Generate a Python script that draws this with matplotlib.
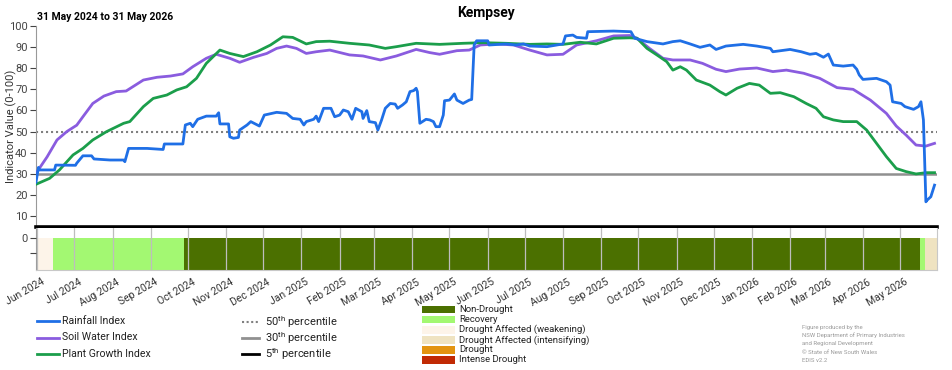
import numpy as np
import pandas as pd
import matplotlib
matplotlib.use("Agg")
import matplotlib.pyplot as plt
import matplotlib.dates as mdates
import matplotlib.transforms as mtransforms
from matplotlib.lines import Line2D
from matplotlib.patches import Rectangle

plt.rcParams['font.family'] = ['Roboto', 'DejaVu Sans']
plt.rcParams['mathtext.fontset'] = 'custom'
plt.rcParams['mathtext.rm'] = 'Roboto'

# Data (day = days after 31 May 2024)
START = pd.Timestamp('2024-05-31')

rain_day = [0, 2, 3, 15, 16, 32, 33, 38, 45, 47, 60, 71, 72, 75, 90, 103, 104, 119,
            121, 125, 127, 131, 138, 146, 148, 149, 156, 157, 160, 164, 165, 171, 174,
            181, 185, 195, 203, 208, 214, 217, 219, 225, 227, 229, 233, 239, 242, 246,
            249, 253, 256, 259, 264, 265, 268, 270, 275, 277, 280, 283, 287, 291, 293,
            297, 300, 303, 306, 308, 309, 311, 316, 319, 322, 324, 327, 330, 331, 335,
            339, 341, 346, 351, 353, 355, 357, 366, 367, 381, 389, 395, 400, 414, 427,
            429, 435, 438, 446, 447, 468, 482, 485, 495, 508, 516, 522, 530, 538, 546,
            551, 559, 573, 584, 595, 597, 611, 620, 627, 632, 638, 642, 646, 654, 662,
            665, 667, 670, 681, 689, 692, 694, 701, 704, 711, 715, 717, 719, 721, 722,
            725, 728]
rain_val = [26, 33, 31.8, 31.8, 34.1, 34, 35, 38.5, 38.5, 37, 36.5, 36.5, 35.7, 42, 42,
            41.5, 44.1, 44.1, 53.1, 53.9, 52.3, 55.8, 57.3, 57.3, 58.9, 53.6, 53.6, 47.5,
            46.8, 47.2, 50.7, 53.1, 54.7, 52.6, 57.8, 59.1, 58.6, 56.2, 55.8, 53.1, 54.7,
            55.8, 57.3, 54.7, 61, 61, 57, 57.8, 60.2, 59.4, 55.8, 61, 59.4, 56.2, 59.9,
            54.7, 54.2, 50.7, 55.5, 61, 63.3, 63, 61, 62.6, 64.1, 68.9, 69.4, 70.5, 68.9,
            53.9, 55.8, 55.5, 54.7, 52.3, 52.3, 57.8, 64.6, 64.9, 67.8, 64.9, 63.3, 64.9,
            65.2, 91, 93, 93, 91, 91.5, 91, 91.5, 90.5, 90.2, 91.5, 95.3, 95.7, 94.6, 94.2,
            97.3, 97.6, 97.3, 94.2, 92.6, 91.5, 92.6, 93, 91.5, 89.9, 91, 88.9, 90.5, 91.3,
            90.5, 89.4, 87.8, 88.9, 87.8, 86.6, 87, 85.2, 86.7, 81.5, 81, 81.5, 79.5, 76.8,
            74.7, 75.2, 73.6, 72, 64.1, 63.3, 61.8, 60.5, 61.8, 64.1, 55.5, 16.7, 17.5,
            19.1, 24.6]

soil_day = [0, 9, 17, 25, 33, 38, 46, 55, 65, 73, 87, 98, 109, 119, 127, 138, 146, 157,
            165, 176, 187, 195, 203, 211, 219, 227, 238, 254, 265, 279, 292, 308, 319,
            327, 341, 351, 360, 373, 387, 400, 414, 427, 438, 454, 468, 481, 487, 497,
            508, 516, 530, 540, 551, 559, 570, 584, 597, 608, 622, 635, 649, 662, 676,
            689, 697, 705, 713, 721, 728]
soil_val = [30.2, 38, 46, 50, 53, 57, 63.3, 66.8, 68.9, 69.2, 74.4, 75.7, 76.3, 77.3,
            80.7, 84.7, 86.6, 84.7, 82.8, 85.1, 87, 89.4, 90.5, 89.4, 87, 87.8, 88.6, 86.3,
            85.8, 83.9, 85.8, 88.9, 87.4, 86.6, 88.3, 88.6, 91, 91.5, 91, 88.6, 86.3, 86.6,
            91, 93, 95.3, 95.5, 94.2, 89.4, 84.7, 83.9, 83.9, 82.3, 79.5, 78.4, 79.6, 80.1,
            78.4, 79.1, 77.6, 75.2, 70.8, 70, 64.9, 58.6, 52.6, 48.3, 43.6, 43.1, 44.4]

plant_day = [0, 11, 19, 30, 38, 46, 57, 71, 76, 87, 95, 106, 114, 122, 130, 138, 149,
             157, 168, 179, 190, 200, 208, 219, 227, 238, 254, 270, 283, 292, 308, 327,
             346, 362, 381, 400, 414, 427, 441, 454, 468, 481, 487, 495, 503, 511, 516,
             522, 527, 535, 546, 554, 559, 568, 578, 586, 595, 603, 614, 624, 632, 638,
             646, 654, 665, 673, 681, 689, 697, 705, 713, 721, 728]
plant_val = [25, 27.8, 31.8, 38.9, 42, 46, 49.9, 53.9, 54.7, 61.8, 65.7, 67.3, 69.7,
             71.2, 75.2, 82.3, 88.6, 87, 85.5, 87.8, 91, 94.9, 94.6, 91.5, 92.6, 92.8,
             91.8, 91, 89.4, 90.2, 91.8, 91.3, 91.8, 92.1, 91.8, 91.3, 91.5, 91.3, 92.3,
             91.5, 94.2, 94.4, 94.2, 89.4, 86.3, 83.1, 79.1, 80.7, 79.1, 74.4, 72, 68.9,
             67.3, 70.5, 72.8, 72, 68.1, 68.4, 66.5, 63.3, 61, 57, 55.5, 54.7, 54.7, 50.7,
             44.4, 38.1, 32.5, 31, 29.9, 30.5, 30.5]

# drought category periods
phase_start = ['2024-05-31', '2024-06-14', '2024-09-28', '2026-05-17', '2026-05-21']
phase_end = ['2024-06-14', '2024-09-28', '2026-05-17', '2026-05-21', '2026-05-31']
phase_class = ['Drought Affected (weakening)', 'Recovery', 'Non-Drought', 'Recovery',
               'Drought Affected (intensifying)']

classes = ['Non-Drought', 'Recovery', 'Drought Affected (weakening)',
           'Drought Affected (intensifying)', 'Drought', 'Intense Drought']
class_colors = ['#4b7000', '#a3f872', '#fdf4e9', '#efe3c1', '#e39410', '#c12a04']

percentiles = [50, 30, 5]
credits = ['Figure produced by the', 'NSW Department of Primary Industries',
           'and Regional Development', '\u00a9 State of New South Wales', 'EDIS v2.2']


def to_dates(days):
    return START + pd.to_timedelta(days, unit='D')


BLUE, PURPLE, GREEN = '#1f6fe6', '#8a5cdf', '#1b9e4b'

fig = plt.figure(figsize=(9.52, 3.70), dpi=100)
ax = fig.add_axes([36 / 952, 1 - 226.5 / 370, 901 / 952, 200.5 / 370])
ax2 = fig.add_axes([36 / 952, 1 - 270 / 370, 901 / 952, 42 / 370])

x0, x1 = START, START + pd.Timedelta(days=730)

# percentile lines
ax.axhline(percentiles[0], color='#808080', lw=1.5, ls=(0, (1, 1.4)), zorder=1)
ax.axhline(percentiles[1], color='#909090', lw=1.8, zorder=1)
ax.axhline(percentiles[2], color='black', lw=2.6, zorder=5, clip_on=False)

ax.plot(to_dates(soil_day), soil_val, color=PURPLE, lw=2, zorder=3)
ax.plot(to_dates(plant_day), plant_val, color=GREEN, lw=2, zorder=3)
ax.plot(to_dates(rain_day), rain_val, color=BLUE, lw=2, zorder=4)

ax.set_xlim(x0, x1)
ax.set_ylim(5, 100)
ax.set_yticks(range(10, 101, 10))
ax.tick_params(axis='y', labelsize=8, colors='#444444', length=4, width=0.8, pad=2)
ax.tick_params(axis='x', bottom=False, labelbottom=False)
for s in ['top', 'right', 'bottom']:
    ax.spines[s].set_visible(False)
ax.spines['left'].set_color('#999999')
fig.text(11 / 952, 1 - 126 / 370, 'Indicator Value (0-100)', fontsize=8,
         color='#333333', rotation=90, ha='center', va='center')
fig.text(486 / 952, 1 - 13 / 370, 'Kempsey', fontsize=10, fontweight='bold',
         ha='center', va='center')
fig.text(37 / 952, 1 - 17 / 370, '31 May 2024 to 31 May 2026', fontsize=7.5,
         fontweight='bold', va='center', ha='left')

# drought category strip
for s, e, c in zip(phase_start, phase_end, phase_class):
    s, e = mdates.date2num(pd.Timestamp(s)), mdates.date2num(pd.Timestamp(e))
    ax2.axvspan(s, e, ymin=0, ymax=0.76, color=class_colors[classes.index(c)],
                lw=0, zorder=1)
ax2.set_xlim(x0, x1)
ax2.set_ylim(-2.13, 0.67)
ax2.set_yticks([0, -1])
ax2.set_yticklabels(['0', ''])
ax2.tick_params(axis='y', labelsize=8, colors='#444444', length=4, width=0.8, pad=2)
ax2.xaxis.set_major_locator(mdates.MonthLocator())
ax2.xaxis.set_major_formatter(mdates.DateFormatter('%b %Y'))
ax2.tick_params(axis='x', length=0, labelsize=7.5, colors='#333333', pad=5)
shift = mtransforms.ScaledTranslation(4 / 100, 0, fig.dpi_scale_trans)
for lab in ax2.get_xticklabels():
    lab.set_rotation(30)
    lab.set_ha('right')
    lab.set_rotation_mode('anchor')
    lab.set_transform(lab.get_transform() + shift)
ax2.grid(axis='x', color='#bdbdbd', lw=0.9, zorder=2)
ax2.set_axisbelow(False)
ax2.spines['top'].set_visible(False)
for s in ['left', 'right', 'bottom']:
    ax2.spines[s].set_color('#c8c8c8')
ax2.spines['left'].set_color('#999999')

# legends (drawn in pixel coordinates)
lg = fig.add_axes([0, 0, 1, 1], zorder=-1)
lg.set_xlim(0, 952)
lg.set_ylim(370, 0)
lg.axis('off')

index_names = ['Rainfall Index', 'Soil Water Index', 'Plant Growth Index']
for i, (name, col) in enumerate(zip(index_names, [BLUE, PURPLE, GREEN])):
    y = 321 + i * 16.5
    lg.add_line(Line2D([37, 59], [y, y], color=col, lw=2))
    lg.text(62, y, name, fontsize=7.6, color='#222222', va='center')

pct_styles = [dict(color='#808080', lw=1.5, ls=(0, (1, 1.2))),
              dict(color='#909090', lw=2),
              dict(color='black', lw=2)]
for i, (p, st) in enumerate(zip(percentiles, pct_styles)):
    y = 322 + i * 16
    lg.add_line(Line2D([242, 259], [y, y], **st))
    lg.text(265, y, f'{p}$^{{\\mathrm{{th}}}}$ percentile', fontsize=8,
            color='#222222', va='center')

for i, (name, col) in enumerate(zip(classes, class_colors)):
    y = 309.5 + i * 10.1
    lg.add_patch(Rectangle((422, y - 3.8), 33, 7.6, color=col, lw=0))
    lg.text(459, y, name, fontsize=6.8, color='#222222', va='center')

for i, line in enumerate(credits):
    lg.text(802, 327 + i * 8.4, line, fontsize=4.3, color='#9a9a9a', va='center')

fig.savefig('out.png', dpi=100)
